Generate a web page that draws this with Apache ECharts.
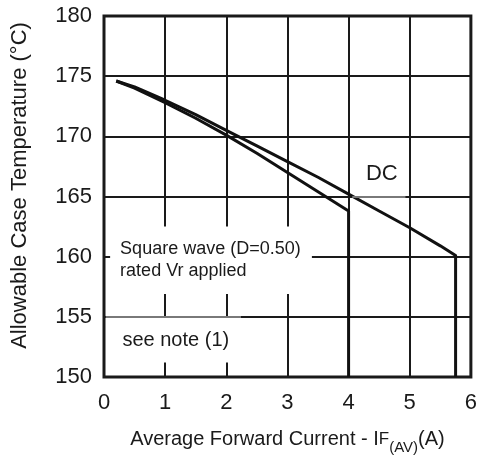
<!DOCTYPE html>
<html>
<head>
<meta charset="utf-8">
<script src="https://cdn.jsdelivr.net/npm/echarts@6/dist/echarts.min.js"></script>
<style>html,body{margin:0;padding:0;background:#fff}#c{width:480px;height:460px}</style>
</head>
<body>
<div id="c"></div>
<script>
const xTickValues = [0, 1, 2, 3, 4, 5, 6];
const yTickValues = [150, 155, 160, 165, 170, 175, 180];
const dcCurrent = [0.2, 0.5, 1, 1.5, 2, 2.5, 3, 3.5, 4, 4.5, 5, 5.5, 5.75, 5.75];
const dcTemp = [174.6, 174.1, 173.0, 171.8, 170.5, 169.2, 167.9, 166.6, 165.2, 163.8, 162.4, 160.9, 160.1, 150];
const sqCurrent = [0.2, 0.5, 1, 1.5, 2, 2.5, 3, 3.5, 4, 4];
const sqTemp = [174.6, 174.0, 172.8, 171.5, 170.1, 168.6, 167.0, 165.4, 163.8, 150];
const labelDC = 'DC';
const labelSquare = 'Square wave (D=0.50)\nrated Vr applied';
const labelNote = 'see note (1)';

const FONT = "'Liberation Sans', Arial, Helvetica, sans-serif";
const zip = (a, b) => a.map((v, i) => [v, b[i]]);

const chart = echarts.init(document.getElementById('c'), null, {renderer: 'canvas'});
chart.setOption({
  animation: false,
  backgroundColor: '#fff',
  grid: {left: 104, right: 6, top: 16, bottom: 80, show: true, borderColor: '#1a1a1a', borderWidth: 3, backgroundColor: 'transparent'},
  xAxis: {
    type: 'value', min: xTickValues[0], max: xTickValues[xTickValues.length - 1], interval: 1,
    axisLine: {show: false}, axisTick: {show: false},
    axisLabel: {color: '#1a1a1a', fontSize: 22, fontFamily: FONT, margin: 15},
    splitLine: {show: true, lineStyle: {color: '#1a1a1a', width: 2}},
    name: 'Average Forward Current - I{f|F}{s|(AV)}(A)',
    nameLocation: 'middle', nameGap: 47,
    nameTextStyle: {color: '#1a1a1a', fontSize: 20, fontFamily: FONT,
      rich: {f: {fontSize: 17, fontFamily: FONT, color: '#1a1a1a'}, s: {fontSize: 15, fontFamily: FONT, color: '#1a1a1a', padding: [16, 0, 0, 0]}}}
  },
  yAxis: {
    type: 'value', min: yTickValues[0], max: yTickValues[yTickValues.length - 1], interval: 5,
    axisLine: {show: false}, axisTick: {show: false},
    axisLabel: {color: '#1a1a1a', fontSize: 22, fontFamily: FONT, margin: 12},
    splitLine: {show: true, lineStyle: {color: '#1a1a1a', width: 2}},
    name: 'Allowable Case Temperature (°C)',
    nameLocation: 'middle', nameGap: 73, nameRotate: 90,
    nameTextStyle: {color: '#1a1a1a', fontSize: 22, fontFamily: FONT, padding: [0, 0, 0, 22]}
  },
  series: [
    {
      type: 'line', data: [], z: 1, silent: true,
      markArea: {
        silent: true,
        itemStyle: {color: '#fff', borderWidth: 0},
        data: [
          [{coord: [0.1, 162.5], label: {show: true, position: 'insideLeft', distance: 10, formatter: labelSquare, fontSize: 18, lineHeight: 22, color: '#1a1a1a', fontFamily: FONT}},
           {coord: [3.4, 156.9]}],
          [{coord: [0.04, 154.9], label: {show: true, position: 'insideLeft', distance: 16, formatter: labelNote, fontSize: 20, color: '#1a1a1a', fontFamily: FONT}},
           {coord: [2.24, 151.2]}],
          [{coord: [4.06, 168.7], label: {show: true, position: 'inside', offset: [3, 0], formatter: labelDC, fontSize: 22, color: '#1a1a1a', fontFamily: FONT}},
           {coord: [4.93, 165.1]}]
        ]
      },
      markLine: {
        silent: true, symbol: 'none', label: {show: false},
        lineStyle: {color: '#9a9a9a', width: 1.5, type: 'solid'},
        data: [
          [{coord: [0.03, 155]}, {coord: [2.24, 155]}],
          [{coord: [4.06, 165]}, {coord: [4.93, 165]}]
        ]
      }
    },
    {
      name: 'DC', type: 'line', z: 3, data: zip(dcCurrent, dcTemp), showSymbol: false, symbol: 'none',
      smooth: false, lineStyle: {color: '#111', width: 3, join: 'round'}
    },
    {
      name: 'Square', type: 'line', z: 3, data: zip(sqCurrent, sqTemp), showSymbol: false, symbol: 'none',
      smooth: false, lineStyle: {color: '#111', width: 3, join: 'round'}
    }
  ]
});
</script>
</body>
</html>
